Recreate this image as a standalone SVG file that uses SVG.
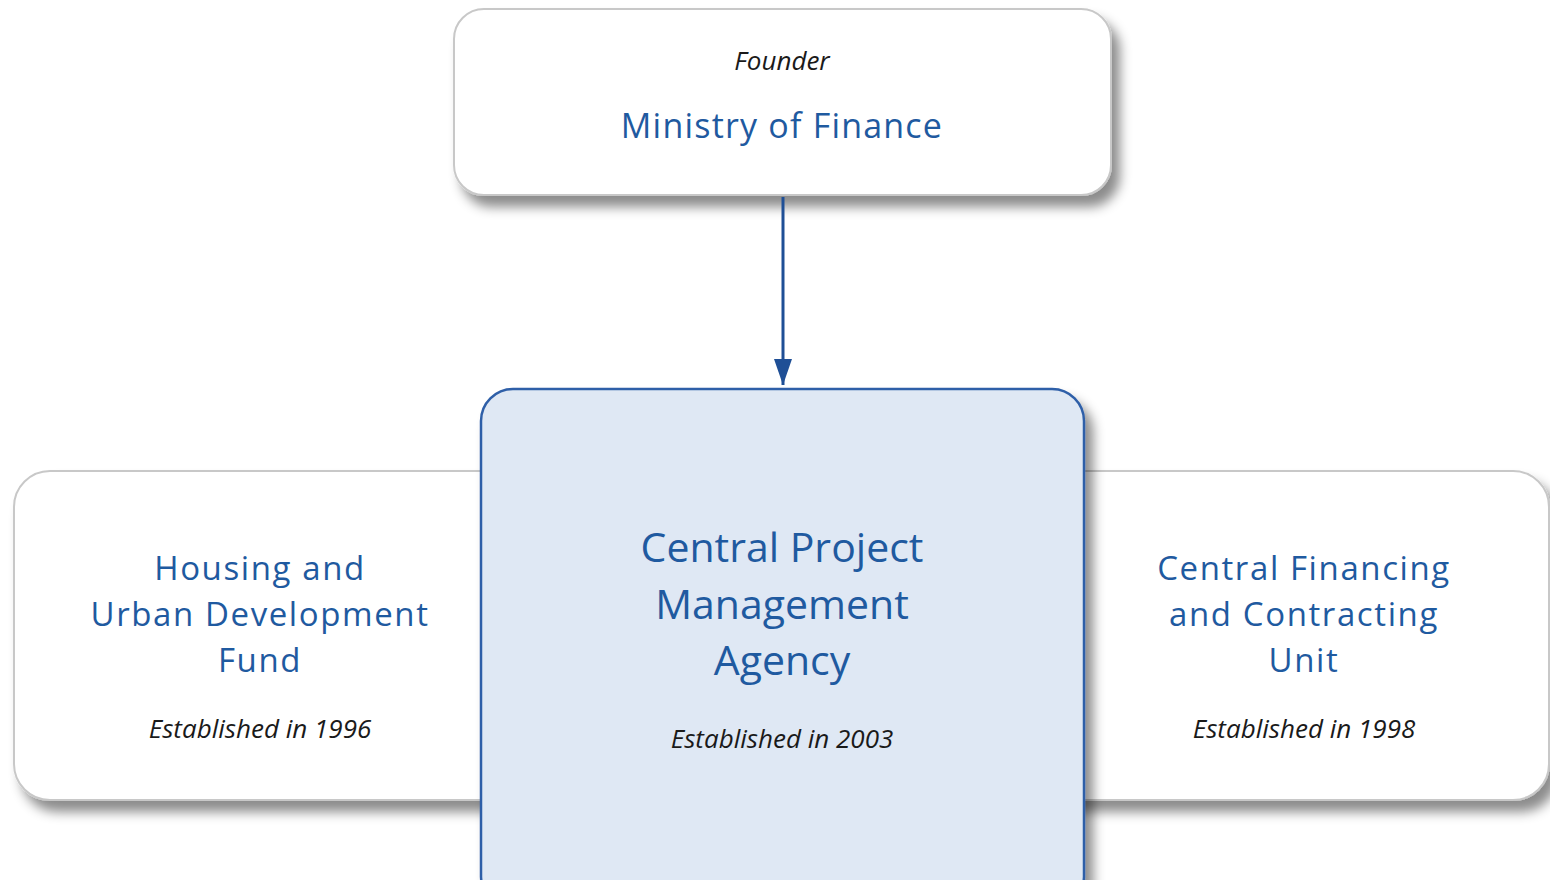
<svg xmlns="http://www.w3.org/2000/svg" width="1550" height="880" viewBox="0 0 1550 880">
<style>
.box{fill:#ffffff;stroke:#c8c8c8;stroke-width:2}
.main{fill:#dfe8f4;stroke:#2f5fa8;stroke-width:2.5}
.blue{font-family:"Open Sans","Noto Sans",sans-serif;fill:#1f5aa0;text-anchor:middle}
.side{font-size:33px;letter-spacing:1.6px}
.big{font-size:41px}
.it{font-family:"Open Sans","Noto Sans",sans-serif;font-style:italic;fill:#1a1a1a;text-anchor:middle;font-size:26px}
</style>
<defs>
<filter id="sh" x="-10%" y="-10%" width="125%" height="135%">
<feDropShadow dx="8" dy="11" stdDeviation="6" flood-color="#000" flood-opacity="0.45"/>
</filter>
<marker id="ah" viewBox="0 0 26 20" refX="26" refY="10" markerWidth="26" markerHeight="20" orient="auto" markerUnits="userSpaceOnUse">
<path d="M0,1 L26,10 L0,19 z" fill="#1f4f96"/>
</marker>
</defs>
<rect width="1550" height="880" fill="#ffffff"/>
<g id="housing">
<rect class="box" x="14" y="471" width="540" height="329" rx="36" filter="url(#sh)"/>
<text class="blue side" x="260" y="580">Housing and</text>
<text class="blue side" x="260" y="626">Urban Development</text>
<text class="blue side" x="260" y="672">Fund</text>
<text class="it" x="260" y="738">Established in 1996</text>
</g>
<g id="cfcu">
<rect class="box" x="1000" y="471" width="549" height="329" rx="36" filter="url(#sh)"/>
<text class="blue side" x="1304" y="580">Central Financing</text>
<text class="blue side" x="1304" y="626">and Contracting</text>
<text class="blue side" x="1304" y="672">Unit</text>
<text class="it" x="1304" y="738">Established in 1998</text>
</g>
<g id="ministry">
<rect class="box" x="454" y="9" width="657" height="186" rx="30" filter="url(#sh)"/>
<text class="it" x="782" y="70" font-size="25">Founder</text>
<text class="blue" x="782" y="138" font-size="34" letter-spacing="1.2">Ministry of Finance</text>
</g>
<g id="cpma">
<rect class="main" x="481" y="389" width="603" height="520" rx="32" filter="url(#sh)"/>
<text class="blue big" x="782" y="562">Central Project</text>
<text class="blue big" x="782" y="619">Management</text>
<text class="blue big" x="782" y="675">Agency</text>
<text class="it" x="782" y="748">Established in 2003</text>
</g>
<g id="connectors">
<line x1="783" y1="197" x2="783" y2="385" stroke="#1f4f96" stroke-width="3" marker-end="url(#ah)"/>
</g>
</svg>
